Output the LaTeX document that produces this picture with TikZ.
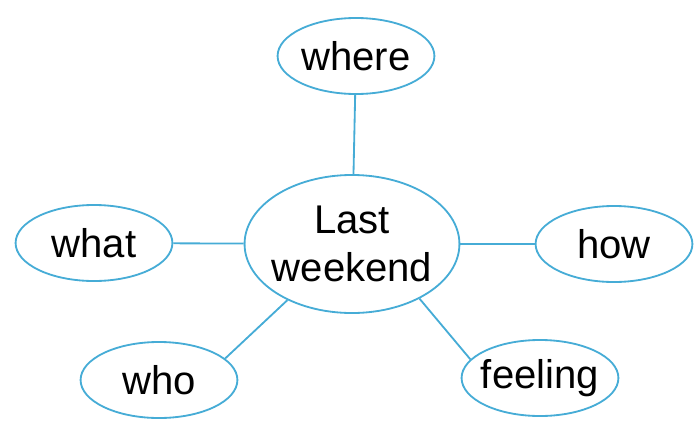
\documentclass[tikz,border=0pt]{standalone}
\usepackage{fontspec}
\setmainfont{Liberation Sans}
\usetikzlibrary{shapes.geometric,positioning}
\definecolor{mapblue}{RGB}{70,172,214}

\begin{document}
\begin{tikzpicture}[x=0.025cm,y=-0.025cm,
    topic/.style={draw=mapblue,line width=1.3pt,ellipse,inner xsep=-0.2cm,inner ysep=0pt,
        minimum width=3.92cm,minimum height=1.9cm,
        font=\fontsize{28.5}{34}\selectfont,align=center},
    link/.style={draw=mapblue,line width=1.3pt}]
    \useasboundingbox (0,0) rectangle (698,428);

    \node[topic,minimum width=5.37cm,minimum height=3.45cm] (hub) at (352,244) {Last\\weekend};

    \node[topic] (where) at (356,56) {where};
    \node[topic] (what) at (94,243) {what};
    \node[topic] (how) at (614,244) {how};
    \node[topic] (who) at (159,380) {who};
    \node[topic] (feeling) at (540,378) {feeling};

    \path[link]
    (hub) edge (where)
          edge (what)
          edge (how)
    (hub.221) edge (who.18)
    (hub.-39) edge (feeling.165)
    ;
\end{tikzpicture}
\end{document}
